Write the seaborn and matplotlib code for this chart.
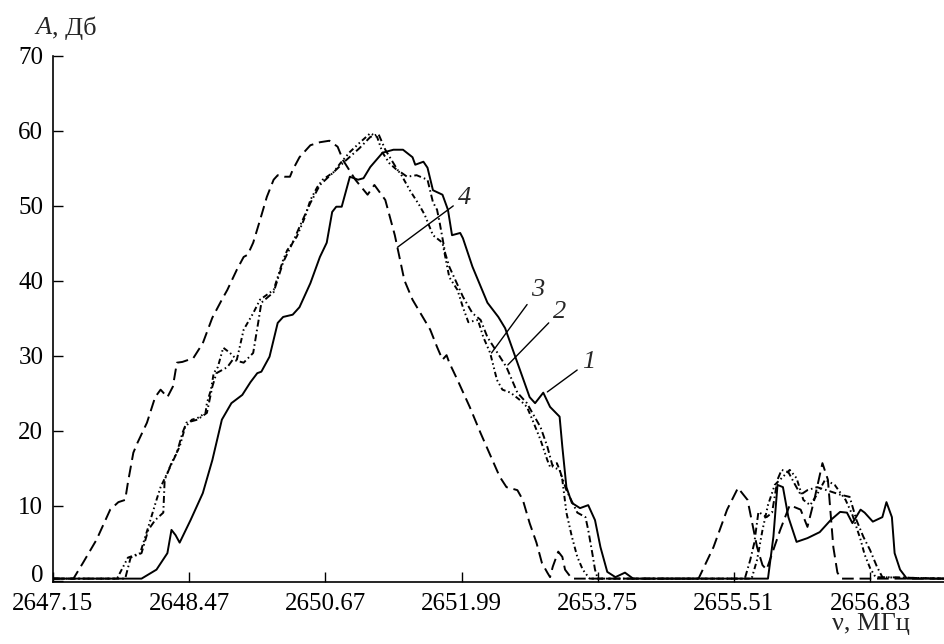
import matplotlib
matplotlib.use("Agg")
import matplotlib.pyplot as plt
import matplotlib.transforms as mtransforms
import seaborn as sns
import pandas as pd

# Frequency axis: ticks are equally spaced on the figure, labels in MHz
tick_labels = ["2647.15", "2648.47", "2650.67", "2651.99", "2653.75", "2655.51", "2656.83"]
y_ticks = [0, 10, 20, 30, 40, 50, 60, 70]

# Curve 1 (solid)
x1 = [0, 0.65, 0.76, 0.84, 0.87, 0.90, 0.93, 1.01, 1.10, 1.17, 1.24, 1.31, 1.39, 1.45, 1.50,
      1.53, 1.59, 1.65, 1.69, 1.76, 1.81, 1.89, 1.96, 2.01, 2.05, 2.08, 2.12, 2.18, 2.24, 2.28,
      2.33, 2.42, 2.50, 2.57, 2.64, 2.66, 2.72, 2.75, 2.79, 2.86, 2.90, 2.93, 2.99, 3.01, 3.08,
      3.19, 3.27, 3.32, 3.41, 3.50, 3.54, 3.60, 3.65, 3.72, 3.74, 3.77, 3.81, 3.87, 3.93, 3.98,
      4.02, 4.07, 4.13, 4.20, 4.26, 5.25, 5.29, 5.32, 5.36, 5.40, 5.46, 5.54, 5.63, 5.71, 5.78,
      5.83, 5.87, 5.93, 5.96, 6.02, 6.09, 6.12, 6.16, 6.18, 6.22, 6.27, 6.55]
y1 = [0.3, 0.3, 1.5, 3.7, 6.8, 6.1, 5.1, 8.1, 11.7, 16.1, 21.5, 23.7, 24.8, 26.5, 27.7,
      27.9, 29.9, 34.4, 35.2, 35.5, 36.5, 39.7, 43.2, 45.1, 49.2, 49.9, 49.9, 53.9, 53.5, 53.7,
      55.2, 57.1, 57.5, 57.5, 56.5, 55.5, 55.9, 55.1, 52.1, 51.5, 49.5, 46.1, 46.4, 45.7, 41.9,
      37.1, 35.2, 33.7, 29.1, 24.5, 23.7, 25.1, 23.2, 21.9, 17.9, 12.5, 10.4, 9.7, 10.1, 8.1,
      4.5, 1.2, 0.5, 1.1, 0.3, 0.3, 5.9, 12.8, 12.5, 8.5, 5.2, 5.7, 6.5, 8.1, 9.2,
      9.1, 7.7, 9.5, 9.1, 7.9, 8.5, 10.5, 8.5, 3.7, 1.5, 0.3, 0.3]

# Curve 2 (dash-dot)
x2 = [0, 0.53, 0.57, 0.65, 0.70, 0.75, 0.81, 0.82, 0.86, 0.91, 0.95, 0.98, 1.06, 1.13, 1.17,
      1.20, 1.28, 1.32, 1.40, 1.47, 1.51, 1.53, 1.62, 1.69, 1.76, 1.81, 1.89, 1.96, 2.06, 2.14,
      2.25, 2.33, 2.39, 2.44, 2.53, 2.60, 2.67, 2.75, 2.79, 2.82, 2.84, 2.88, 2.91, 3.01, 3.08,
      3.14, 3.19, 3.25, 3.33, 3.37, 3.41, 3.48, 3.52, 3.58, 3.63, 3.67, 3.72, 3.77, 3.85, 3.91,
      3.93, 3.96, 3.98, 4.00, 5.08, 5.12, 5.15, 5.18, 5.24, 5.28, 5.32, 5.35, 5.40, 5.45, 5.49,
      5.54, 5.61, 5.68, 5.78, 5.85, 5.90, 5.95, 6.00, 6.05, 6.09, 6.55]
y2 = [0.3, 0.3, 3.1, 3.7, 6.8, 8.1, 9.1, 13.5, 15.2, 17.1, 19.7, 21.1, 21.5, 22.4, 25.9,
      27.7, 28.5, 29.5, 29.1, 30.4, 34.8, 37.1, 38.5, 42.5, 45.1, 47.2, 50.4, 52.8, 54.5, 55.9,
      57.7, 59.2, 59.6, 57.5, 54.8, 53.9, 54.1, 53.5, 50.5, 49.5, 47.7, 43.7, 41.9, 37.9, 35.7,
      34.8, 32.5, 30.8, 28.5, 26.8, 25.1, 23.7, 22.4, 20.5, 17.9, 15.2, 14.8, 12.1, 9.1, 8.5,
      6.8, 3.7, 1.5, 0.3, 0.3, 2.8, 5.1, 9.2, 8.5, 9.1, 13.5, 14.8, 14.5, 12.8, 11.5,
      12.1, 12.5, 12.1, 11.5, 11.2, 8.1, 5.9, 4.1, 1.9, 0.5, 0.3]

# Curve 3 (dash-dot-dot)
x3 = [0, 0.47, 0.55, 0.64, 0.70, 0.76, 0.79, 0.84, 0.87, 0.93, 0.97, 1.02, 1.06, 1.12, 1.13,
      1.16, 1.18, 1.21, 1.25, 1.30, 1.35, 1.40, 1.47, 1.52, 1.62, 1.69, 1.72, 1.79, 1.85, 1.89,
      1.94, 1.98, 2.06, 2.11, 2.18, 2.25, 2.33, 2.38, 2.42, 2.47, 2.55, 2.62, 2.69, 2.73, 2.79,
      2.86, 2.91, 2.97, 3.01, 3.05, 3.12, 3.16, 3.21, 3.26, 3.30, 3.36, 3.43, 3.48, 3.52, 3.58,
      3.63, 3.65, 3.70, 3.72, 3.74, 3.77, 3.81, 3.85, 3.89, 3.94, 5.13, 5.17, 5.21, 5.25, 5.30,
      5.35, 5.41, 5.46, 5.51, 5.56, 5.61, 5.67, 5.74, 5.82, 5.87, 5.93, 5.96, 6.00, 6.04, 6.55]
y3 = [0.3, 0.3, 3.1, 3.7, 7.2, 10.8, 12.5, 14.4, 15.7, 17.9, 20.5, 21.5, 21.7, 22.4, 23.7,
      25.5, 27.7, 28.5, 31.1, 30.4, 29.5, 33.5, 35.7, 37.5, 38.8, 42.8, 44.1, 45.9, 48.5, 50.8,
      52.5, 53.5, 54.5, 55.7, 57.2, 58.4, 59.7, 59.2, 57.1, 55.7, 54.4, 52.1, 50.1, 48.8, 46.1,
      45.1, 40.5, 38.8, 36.5, 34.5, 34.8, 32.5, 30.4, 26.8, 25.5, 25.1, 24.1, 23.2, 21.5, 18.8,
      16.1, 15.2, 15.7, 14.8, 13.5, 9.1, 5.9, 3.2, 1.5, 0.3, 0.3, 2.8, 6.8, 10.1, 12.8,
      13.7, 14.8, 13.7, 10.8, 10.1, 11.5, 13.5, 12.8, 10.8, 8.8, 5.5, 3.5, 1.7, 0.5, 0.3]

# Curve 4 (dashed)
x4 = [0, 0.15, 0.22, 0.32, 0.42, 0.48, 0.53, 0.55, 0.59, 0.62, 0.69, 0.75, 0.79, 0.84, 0.88,
      0.91, 0.95, 1.03, 1.10, 1.17, 1.24, 1.28, 1.35, 1.40, 1.43, 1.47, 1.52, 1.57, 1.62, 1.65,
      1.70, 1.74, 1.76, 1.81, 1.89, 1.96, 2.03, 2.09, 2.13, 2.22, 2.31, 2.36, 2.44, 2.51, 2.58,
      2.64, 2.77, 2.82, 2.86, 2.89, 2.91, 2.97, 3.06, 3.14, 3.28, 3.33, 3.41, 3.45, 3.50, 3.55,
      3.59, 3.63, 3.65, 3.67, 3.71, 3.74, 3.76, 3.81, 4.74, 4.85, 4.95, 5.03, 5.10, 5.13, 5.17,
      5.21, 5.24, 5.34, 5.41, 5.49, 5.54, 5.59, 5.65, 5.69, 5.73, 5.76, 5.79, 6.55]
y4 = [0.3, 0.3, 2.4, 5.5, 9.5, 10.5, 10.8, 13.1, 17.1, 18.4, 21.1, 24.5, 25.5, 24.5, 25.9,
      29.1, 29.2, 29.7, 31.7, 35.1, 37.5, 38.8, 41.5, 43.2, 43.5, 45.1, 48.1, 51.2, 53.5, 54.1,
      53.9, 53.9, 54.8, 56.5, 58.1, 58.5, 58.7, 57.9, 56.1, 53.5, 51.5, 52.8, 50.8, 46.1, 40.1,
      37.5, 33.5, 31.2, 29.5, 30.1, 29.1, 26.8, 23.2, 19.7, 13.9, 12.5, 12.1, 10.8, 7.7, 5.1,
      2.4, 1.1, 0.5, 1.9, 3.9, 3.2, 1.5, 0.3, 0.3, 4.5, 9.5, 12.4, 10.8, 8.1, 4.5,
      2.1, 1.5, 6.8, 10.1, 9.5, 7.2, 10.8, 15.7, 13.5, 4.5, 1.1, 0.3, 0.3]

# Curve labels: (text, point on curve, text position)
labels = [("1", (3.63, 25.2), (3.93, 29.2)),
          ("2", (3.34, 28.8), (3.72, 35.9)),
          ("3", (3.22, 30.4), (3.56, 38.8)),
          ("4", (2.53, 44.5), (3.02, 51.1))]

sns.set_style("ticks")
plt.rcParams['font.family'] = ['Liberation Serif', 'DejaVu Serif']

fig = plt.figure(figsize=(9.45, 6.44), dpi=100)
ax = fig.add_axes([53 / 945, 62 / 644, 892 / 945, 526 / 644])

curves = [
    (x1, y1, '-'),
    (x2, y2, (0, (3.6, 1.6, 0.8, 1.6))),
    (x3, y3, (0, (2.8, 1.5, 0.8, 1.5, 0.8, 1.5))),
    (x4, y4, (0, (6, 3))),
]
for xs, ys, ls in curves:
    df = pd.DataFrame({'pos': xs, 'A': ys})
    sns.lineplot(data=df, x='pos', y='A', ax=ax, color='black', lw=1.4,
                 sort=False, estimator=None, legend=False, linestyle=ls)

for text, xy, xytext in labels:
    ax.annotate(text, xy=xy, xytext=xytext, fontsize=19, style='italic',
                ha='center', va='center',
                arrowprops=dict(arrowstyle='-', color='black', lw=1.0,
                                shrinkA=1, shrinkB=0))

ax.set_xlim(0, 6.55)
ax.set_ylim(-0.15, 70)
ax.set_xticks(range(len(tick_labels)))
ax.set_xticklabels(tick_labels)
ax.set_yticks(y_ticks)
ax.set_xlabel('')
ax.set_ylabel('')
ax.tick_params(direction='in', length=7, width=1, labelsize=18, colors='black')
ax.tick_params(axis='y', pad=7)
ax.tick_params(axis='x', pad=8)
sns.despine(ax=ax)
for side in ['left', 'bottom']:
    ax.spines[side].set_linewidth(1.2)
    ax.spines[side].set_color('black')

# the "0" label sits slightly above its tick in the original
zero_label = ax.get_yticklabels()[0]
zero_label.set_transform(zero_label.get_transform() +
                         mtransforms.ScaledTranslation(0, 0.07, fig.dpi_scale_trans))

fig.text(35 / 945, 1 - 28 / 644, 'A', fontsize=19, style='italic', ha='left', va='center')
fig.text(52 / 945, 1 - 28 / 644, ', Дб', fontsize=19, ha='left', va='center')
fig.text(871 / 945, 1 - 624 / 644, 'ν, МГц', fontsize=19, ha='center', va='center')

fig.savefig('out.png', dpi=100)
